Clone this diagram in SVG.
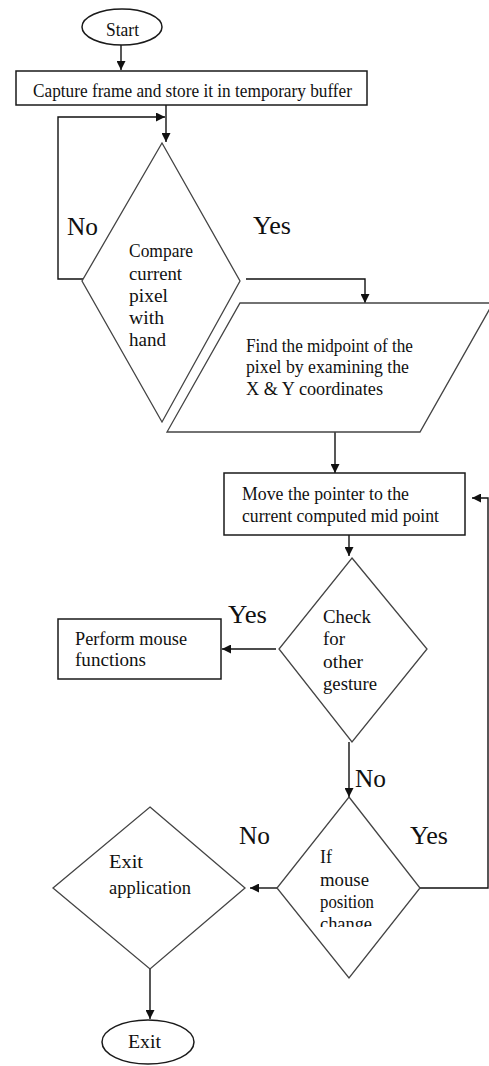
<svg xmlns="http://www.w3.org/2000/svg" width="489" height="1066" viewBox="0 0 489 1066">
<defs>
<style>
.box{fill:#fff;stroke:#1a1a1a;stroke-width:1.5}
.dia{fill:#fff;stroke:#444;stroke-width:1.3}
.t{font-family:"Liberation Serif","Times New Roman",serif;font-size:18px;fill:#111}
.lbl{font-family:"Liberation Serif","Times New Roman",serif;font-size:25px;fill:#111}
.c{fill:none;stroke:#111;stroke-width:1.4}
</style>
<marker id="ah" viewBox="0 0 10 10" refX="10" refY="5" markerWidth="9" markerHeight="9" markerUnits="userSpaceOnUse" orient="auto">
<path d="M0,0 L10,5 L0,10 Z" fill="#111"/>
</marker>
<clipPath id="clipChange"><rect x="300" y="900" width="100" height="27"/></clipPath>
</defs>
<rect width="489" height="1066" fill="#fff"/>

<g id="connectors">
<path class="c" d="M121,45 V70" marker-end="url(#ah)"/>
<path class="c" d="M166,105 V142" marker-end="url(#ah)"/>
<path class="c" d="M83,279 H58 V117 H165" marker-end="url(#ah)"/>
<path class="c" d="M246,279 H365 V303" marker-end="url(#ah)"/>
<path class="c" d="M335,432 V473" marker-end="url(#ah)"/>
<path class="c" d="M349,535 V556" marker-end="url(#ah)"/>
<path class="c" d="M276,649 H222" marker-end="url(#ah)"/>
<path class="c" d="M349,742 V797" marker-end="url(#ah)"/>
<path class="c" d="M277,888 H250" marker-end="url(#ah)"/>
<path class="c" d="M420,888 H488 V498 H472" marker-end="url(#ah)"/>
<path class="c" d="M150,969 V1019" marker-end="url(#ah)"/>
</g>

<g id="labels">
<text class="lbl" x="67" y="235" textLength="31" lengthAdjust="spacingAndGlyphs">No</text>
<text class="lbl" x="253" y="234" textLength="38" lengthAdjust="spacingAndGlyphs">Yes</text>
<text class="lbl" x="228" y="623" textLength="39" lengthAdjust="spacingAndGlyphs">Yes</text>
<text class="lbl" x="355" y="787" textLength="31" lengthAdjust="spacingAndGlyphs">No</text>
<text class="lbl" x="239" y="844" textLength="31" lengthAdjust="spacingAndGlyphs">No</text>
<text class="lbl" x="410" y="844" textLength="38" lengthAdjust="spacingAndGlyphs">Yes</text>
</g>

<g id="start">
<ellipse class="box" cx="122" cy="27" rx="40" ry="18"/>
<text class="t" x="106" y="36" font-size="17" textLength="33" lengthAdjust="spacingAndGlyphs">Start</text>
</g>

<g id="capture">
<rect class="box" x="16" y="71" width="351" height="34"/>
<text class="t" x="33" y="97" textLength="319" lengthAdjust="spacingAndGlyphs">Capture frame and store it in temporary buffer</text>
</g>

<g id="compare">
<polygon class="dia" points="162,143 240,281 162,422 82,281"/>
<text class="t" x="129" y="257" textLength="64" lengthAdjust="spacingAndGlyphs">Compare</text>
<text class="t" x="129" y="280" textLength="53" lengthAdjust="spacingAndGlyphs">current</text>
<text class="t" x="129" y="302" textLength="39" lengthAdjust="spacingAndGlyphs">pixel</text>
<text class="t" x="129" y="324" textLength="35" lengthAdjust="spacingAndGlyphs">with</text>
<text class="t" x="129" y="346" textLength="37" lengthAdjust="spacingAndGlyphs">hand</text>
</g>

<g id="midpoint">
<polygon class="dia" points="240,303 493,303 420,432 167,432"/>
<text class="t" x="246" y="352" textLength="167" lengthAdjust="spacingAndGlyphs">Find the midpoint of the</text>
<text class="t" x="246" y="373" textLength="163" lengthAdjust="spacingAndGlyphs">pixel by examining the</text>
<text class="t" x="246" y="395" textLength="137" lengthAdjust="spacingAndGlyphs">X &amp; Y coordinates</text>
</g>

<g id="move">
<rect class="box" x="224" y="473" width="241" height="62"/>
<text class="t" x="242" y="500" textLength="167" lengthAdjust="spacingAndGlyphs">Move the pointer to the</text>
<text class="t" x="242" y="522" textLength="197" lengthAdjust="spacingAndGlyphs">current computed mid point</text>
</g>

<g id="check">
<polygon class="dia" points="352,558 427,649 352,742 279,649"/>
<text class="t" x="323" y="623" textLength="48" lengthAdjust="spacingAndGlyphs">Check</text>
<text class="t" x="323" y="645" textLength="22" lengthAdjust="spacingAndGlyphs">for</text>
<text class="t" x="323" y="668" textLength="40" lengthAdjust="spacingAndGlyphs">other</text>
<text class="t" x="323" y="690" textLength="54" lengthAdjust="spacingAndGlyphs">gesture</text>
</g>

<g id="perform">
<rect class="box" x="58" y="619" width="163" height="60"/>
<text class="t" x="75" y="645" textLength="112" lengthAdjust="spacingAndGlyphs">Perform mouse</text>
<text class="t" x="75" y="666" textLength="71" lengthAdjust="spacingAndGlyphs">functions</text>
</g>

<g id="mousechange">
<polygon class="dia" points="349,797 420,888 349,978 277,888"/>
<text class="t" x="320" y="863" textLength="12" lengthAdjust="spacingAndGlyphs">If</text>
<text class="t" x="320" y="886" textLength="49" lengthAdjust="spacingAndGlyphs">mouse</text>
<text class="t" x="320" y="908" textLength="54" lengthAdjust="spacingAndGlyphs">position</text>
<text class="t" x="320" y="930" textLength="52" lengthAdjust="spacingAndGlyphs" clip-path="url(#clipChange)">change</text>
</g>

<g id="exitapp">
<polygon class="dia" points="150,807 245,888 150,969 53,888"/>
<text class="t" x="109" y="868" textLength="34" lengthAdjust="spacingAndGlyphs">Exit</text>
<text class="t" x="109" y="894" textLength="82" lengthAdjust="spacingAndGlyphs">application</text>
</g>

<g id="exit">
<ellipse class="box" cx="148" cy="1042" rx="46" ry="22"/>
<text class="t" x="128" y="1048" textLength="33" lengthAdjust="spacingAndGlyphs">Exit</text>
</g>
</svg>
